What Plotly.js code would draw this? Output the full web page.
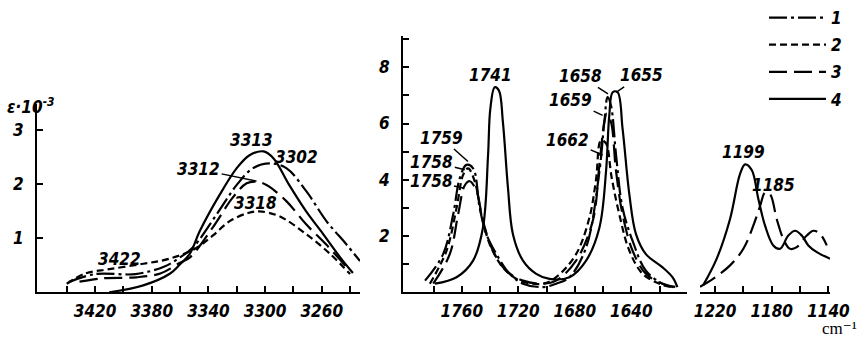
<!DOCTYPE html>
<html><head><meta charset="utf-8">
<script src="https://cdn.plot.ly/plotly-3.0.1.min.js"></script>
<style>html,body{margin:0;padding:0;background:#fff;}#chart{width:857px;height:339px;}</style>
</head><body><div id="chart"></div>
<script>
// ---- Panel 1: 3460-3230 cm-1 (epsilon*10^-3) ----
const p1_c1_x = [3438.6, 3419.7, 3391.5, 3371, 3360, 3351, 3334.3, 3320, 3308.5, 3296.7, 3285, 3270.8, 3256.7, 3242.6, 3233];
const p1_c1_y = [0.19, 0.34, 0.34, 0.48, 0.65, 0.83, 1.44, 1.99, 2.30, 2.39, 2.30, 1.87, 1.32, 0.89, 0.58];
const p1_c2_x = [3440, 3427, 3410, 3386, 3368, 3350, 3337, 3325, 3312, 3304, 3290, 3271, 3254, 3240];
const p1_c2_y = [0.16, 0.35, 0.43, 0.53, 0.62, 0.80, 1.05, 1.32, 1.47, 1.50, 1.41, 1.08, 0.71, 0.34];
const p1_c3_x = [3431, 3415, 3391, 3374, 3360, 3353, 3337, 3323, 3313, 3306, 3299, 3285, 3271, 3257, 3240];
const p1_c3_y = [0.20, 0.26, 0.28, 0.35, 0.55, 0.65, 1.20, 1.75, 2.02, 2.05, 1.99, 1.69, 1.26, 0.89, 0.40];
const p1_c4_x = [3410, 3386, 3367, 3360, 3353, 3346, 3332, 3320, 3311, 3301, 3294, 3283, 3271, 3259, 3247, 3238];
const p1_c4_y = [0.00, 0.13, 0.35, 0.52, 0.72, 1.14, 1.81, 2.30, 2.54, 2.61, 2.48, 1.99, 1.50, 1.08, 0.65, 0.36];

// ---- Panel 2: 1800-1600 cm-1 ----
const p2_c1_x = [1786, 1773.2, 1766.1, 1761.4, 1756.7, 1752, 1747.3, 1742.6, 1735.5, 1726.1, 1716.7, 1702.6, 1693.2, 1683.8, 1672, 1662.6, 1659.1, 1656.8, 1654.4, 1650.8, 1646.2, 1639.1, 1629.7, 1617.9, 1610];
const p2_c1_y = [0.42, 1.36, 2.77, 4.06, 4.53, 4.41, 3.00, 2.07, 1.36, 0.66, 0.31, 0.19, 0.31, 0.54, 1.60, 4.30, 6.06, 6.94, 6.64, 4.88, 3.00, 1.83, 0.77, 0.31, 0.19];
const p2_c2_x = [1782.6, 1770.8, 1763.7, 1759, 1755.5, 1750.8, 1746.1, 1740.2, 1730.9, 1719, 1702.6, 1693.2, 1679.1, 1669.7, 1665, 1661.5, 1658, 1654, 1648.5, 1641.4, 1632, 1620.3, 1612];
const p2_c2_y = [0.31, 1.48, 3.00, 4.18, 4.41, 3.94, 2.77, 1.71, 0.89, 0.42, 0.31, 0.54, 1.36, 2.65, 4.00, 5.40, 5.30, 4.10, 2.77, 1.48, 0.66, 0.31, 0.19];
const p2_c3_x = [1780.2, 1768.5, 1762.6, 1757.9, 1754.4, 1749.6, 1745, 1737.9, 1728.5, 1716.7, 1702.6, 1693.2, 1679.1, 1667.3, 1662.6, 1659.1, 1657.4, 1654.4, 1650.8, 1646.2, 1639.1, 1629.7, 1617.9, 1608];
const p2_c3_y = [0.31, 1.36, 2.77, 3.80, 3.95, 3.60, 2.54, 1.48, 0.77, 0.42, 0.31, 0.42, 1.13, 2.54, 4.53, 6.06, 6.35, 6.06, 4.30, 2.77, 1.48, 0.66, 0.31, 0.19];
const p2_c4_x = [1779, 1763.7, 1752, 1745, 1741.4, 1739.8, 1736.7, 1733.7, 1730.9, 1727.3, 1723.8, 1716.7, 1707.3, 1697.9, 1683.8, 1672, 1662.6, 1657.9, 1655.6, 1653.2, 1649.7, 1646.2, 1641.4, 1636.7, 1629.7, 1617.9, 1610.9, 1607.4];
const p2_c4_y = [0.31, 0.54, 1.13, 2.30, 4.88, 6.52, 7.29, 7.17, 6.06, 3.71, 2.07, 1.13, 0.66, 0.48, 0.54, 1.13, 2.30, 4.30, 6.29, 7.11, 7.11, 5.82, 3.48, 2.07, 1.36, 0.89, 0.54, 0.19];

// ---- Panel 3: 1230-1140 cm-1 ----
const p3_c3_x = [1230.6, 1221.2, 1209.4, 1200, 1193, 1188.2, 1184.7, 1181.2, 1176.5, 1171.8, 1167.1, 1162.3, 1155.3, 1150.6, 1145.9, 1141.2];
const p3_c3_y = [0.20, 0.49, 0.96, 1.55, 2.37, 3.07, 3.55, 3.49, 2.61, 1.90, 1.55, 1.61, 2.02, 2.19, 2.08, 1.67];
const p3_c4_x = [1228.3, 1218.8, 1209.4, 1202.4, 1198.8, 1194.1, 1189.4, 1184.7, 1178.9, 1174.1, 1168.3, 1163.5, 1158.8, 1154.2, 1148.2, 1138.8];
const p3_c4_y = [0.26, 1.20, 2.61, 4.20, 4.55, 4.35, 3.31, 2.37, 1.67, 1.55, 2.02, 2.19, 2.02, 1.67, 1.43, 1.20];

const seriesNames = ['1', '2', '3', '4'];
const p1_ticks = [3420, 3380, 3340, 3300, 3260];
const p1_minor = [3440, 3400, 3360, 3320, 3280, 3240];
const p2_ticks = [1760, 1720, 1680, 1640];
const p2_minor = [1780, 1740, 1700, 1660, 1620, 1600];
const p3_ticks = [1220, 1180, 1140];
const p3_minor = [1200, 1160];
const p1_yticks = [1, 2, 3];
const p2_yticks = [2, 4, 6, 8];

const peakLabels1 = [
  {t:'3422', px:[120, 258]}, {t:'3313', px:[252, 138]}, {t:'3302', px:[296, 155]}, {t:'3318', px:[255, 202]},
  {t:'1741', px:[490, 73]}, {t:'1199', px:[743, 150]}, {t:'1185', px:[773, 184]}
];
const arrowLabels = [
  {t:'3312', ax:'x', ay:'y', x:3306, y:2.06, dx:-58, dy:-12},
  {t:'1759', ax:'x2', ay:'y2', x:1755.6, y:4.65, dx:-27, dy:-24},
  {t:'1758', ax:'x2', ay:'y2', x:1757.9, y:4.36, dx:-33, dy:-8},
  {t:'1758', ax:'x2', ay:'y2', x:1759.1, y:3.71, dx:-32, dy:-7},
  {t:'1658', ax:'x2', ay:'y2', x:1656.5, y:7.05, dx:-28, dy:-18},
  {t:'1655', ax:'x2', ay:'y2', x:1650.8, y:7.11, dx:25, dy:-17},
  {t:'1659', ax:'x2', ay:'y2', x:1660.3, y:6.29, dx:-32, dy:-15},
  {t:'1662', ax:'x2', ay:'y2', x:1660.3, y:4.88, dx:-35, dy:-15}
];

const W = 857, H = 339;
const FONT = {family:'"Liberation Sans Narrow", "DejaVu Sans Condensed", sans-serif', size:17, color:'#000', weight:'bold', style:'italic'};
const dashes = ['18px,4px,3px,4px', '7px,4px', '18px,7px', 'solid'];
const LW = 2.2;

function tr(x, y, i, xa, ya, legend) {
  return {x:x, y:y, xaxis:xa, yaxis:ya, type:'scatter', mode:'lines', name:seriesNames[i],
    legendgroup:'g'+i, showlegend:!!legend,
    line:{color:'#000', width:LW, dash:dashes[i], shape:'spline', smoothing:1}, hoverinfo:'skip'};
}
const data = [
  tr(p1_c1_x, p1_c1_y, 0, 'x', 'y', true), tr(p1_c2_x, p1_c2_y, 1, 'x', 'y', true),
  tr(p1_c3_x, p1_c3_y, 2, 'x', 'y', true), tr(p1_c4_x, p1_c4_y, 3, 'x', 'y', true),
  tr(p2_c1_x, p2_c1_y, 0, 'x2', 'y2'), tr(p2_c2_x, p2_c2_y, 1, 'x2', 'y2'),
  tr(p2_c3_x, p2_c3_y, 2, 'x2', 'y2'), tr(p2_c4_x, p2_c4_y, 3, 'x2', 'y2'),
  tr(p3_c3_x, p3_c3_y, 2, 'x3', 'y3'), tr(p3_c4_x, p3_c4_y, 3, 'x3', 'y3')
];

function xax(dom, range, ticks, minor, anchor) {
  return {domain:[dom[0]/W, dom[1]/W], range:range, anchor:anchor, tickmode:'array', tickvals:ticks,
    ticks:'inside', ticklen:6, tickwidth:2, tickcolor:'#000', showline:true, linewidth:2, linecolor:'#000',
    showgrid:false, zeroline:false, tickfont:FONT, ticklabelstandoff:2,
    minor:{tickmode:'array', tickvals:minor, ticks:'inside', ticklen:6, tickwidth:2, tickcolor:'#000', showgrid:false}};
}
function yax(top, range, ticks, anchor, visible, minorDt) {
  const a = {domain:[(H-292)/H, (H-top)/H], range:range, anchor:anchor, tickmode:'array', tickvals:ticks,
    ticks:'inside', ticklen:6, tickwidth:2, tickcolor:'#000', showline:true, linewidth:2, linecolor:'#000',
    showgrid:false, zeroline:false, tickfont:FONT, ticklabelstandoff:8, visible:visible};
  if (minorDt) a.minor = {dtick:minorDt, ticks:'inside', ticklen:6, tickwidth:2, tickcolor:'#000', showgrid:false};
  return a;
}

const annotations = [];
peakLabels1.forEach(p => annotations.push({text:p.t, xref:'paper', yref:'paper', x:p.px[0]/W, y:1-p.px[1]/H,
  showarrow:false, font:FONT, xanchor:'center', yanchor:'middle'}));
arrowLabels.forEach(p => annotations.push({text:p.t, xref:p.ax, yref:p.ay, x:p.x, y:p.y, ax:p.dx, ay:p.dy,
  showarrow:true, arrowhead:0, arrowwidth:1.5, arrowcolor:'#000', standoff:0, font:FONT}));
annotations.push({text:'ε·10<sup>-3</sup>', xref:'paper', yref:'paper', x:31/W, y:1-104/H, showarrow:false,
  font:FONT, xanchor:'center', yanchor:'middle'});
annotations.push({text:'cm⁻¹', xref:'paper', yref:'paper', x:839/W, y:0, showarrow:false,
  font:{family:'"Liberation Serif", "DejaVu Serif", serif', size:17, color:'#000'}, xanchor:'center', yanchor:'bottom', borderpad:0});

const layout = {
  width:W, height:H, margin:{l:0, r:0, t:0, b:0}, paper_bgcolor:'#fff', plot_bgcolor:'#fff',
  showlegend:true,
  legend:{x:764/W, y:1+3/H, xanchor:'left', yanchor:'top', font:FONT, itemwidth:57, tracegroupgap:2,
    bgcolor:'rgba(0,0,0,0)', traceorder:'grouped'},
  xaxis: xax([37, 360], [3461, 3233], p1_ticks, p1_minor, 'y'),
  yaxis: yax(102, [0, 3.486], p1_yticks, 'x', true, null),
  xaxis2: xax([403, 687], [1801.6, 1600.6], p2_ticks, p2_minor, 'y2'),
  yaxis2: yax(33, [0, 9.12], p2_yticks, 'x2', true, 1),
  xaxis3: xax([700, 830], [1230.6, 1138.9], p3_ticks, p3_minor, 'y3'),
  yaxis3: yax(33, [0, 9.12], [], 'x3', false, null),
  annotations: annotations
};
Plotly.newPlot('chart', data, layout, {staticPlot:true, displayModeBar:false});
</script></body></html>
